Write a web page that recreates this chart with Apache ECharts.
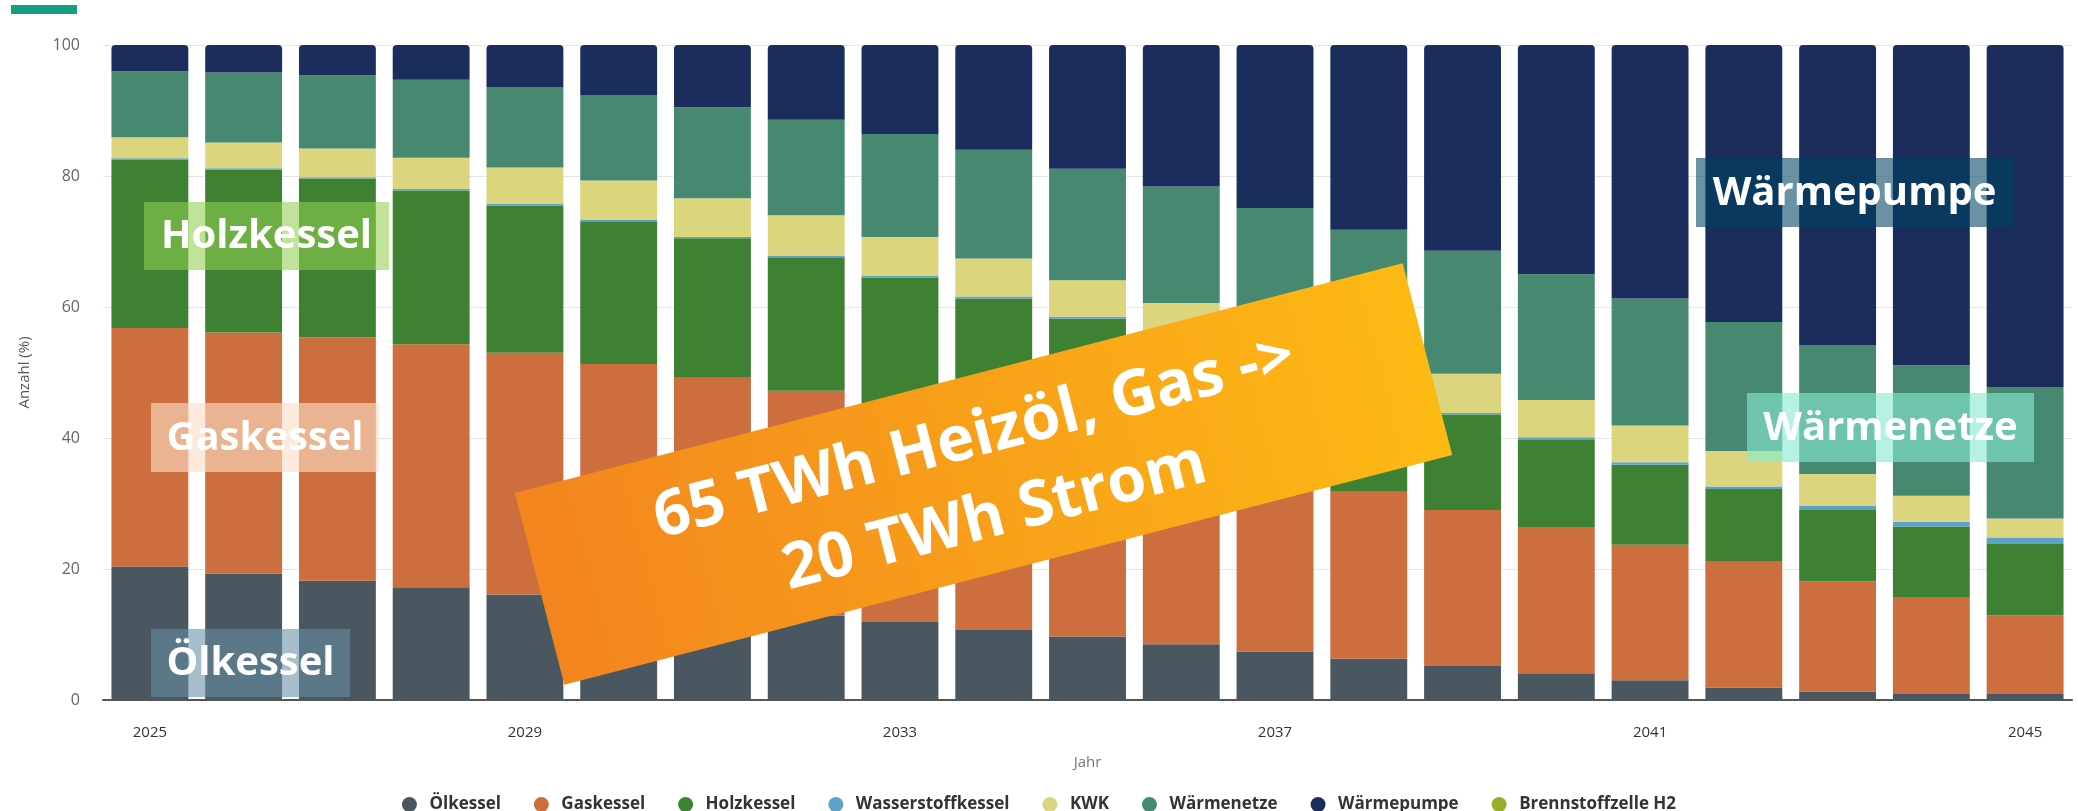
<!DOCTYPE html>
<html>
<head>
<meta charset="utf-8">
<title>Heizungen Anzahl (%)</title>
<script src="https://cdn.jsdelivr.net/npm/echarts@6/dist/echarts.min.js"></script>
<style>
  html, body { margin: 0; padding: 0; background: #fff; }
  #chart { width: 2078px; height: 811px; }
</style>
</head>
<body>
<div id="chart"></div>
<script>
let years = ["2025", "2026", "2027", "2028", "2029", "2030", "2031", "2032", "2033", "2034", "2035",
  "2036", "2037", "2038", "2039", "2040", "2041", "2042", "2043", "2044", "2045"];

let oelkessel = [20.4, 19.3, 18.2, 17.2, 16.1, 15.0, 14.0, 12.9, 11.9, 10.7, 9.7, 8.5, 7.4, 6.3, 5.2, 4.1, 3.0, 1.9, 1.3, 0.9, 0.9];
let gaskessel = [36.4, 36.8, 37.2, 37.1, 36.9, 36.3, 35.3, 34.3, 32.7, 31.3, 29.8, 28.4, 27.0, 25.5, 23.8, 22.3, 20.7, 19.2, 16.8, 14.7, 12.0];
let holzkessel = [25.7, 24.9, 24.2, 23.5, 22.5, 21.8, 21.2, 20.4, 19.9, 19.3, 18.7, 17.8, 16.6, 15.6, 14.6, 13.3, 12.2, 11.1, 10.9, 10.9, 10.9];
let wasserstoffkessel = [0.2, 0.2, 0.2, 0.2, 0.3, 0.2, 0.2, 0.2, 0.3, 0.3, 0.3, 0.3, 0.3, 0.3, 0.2, 0.4, 0.4, 0.4, 0.6, 0.7, 1.0];
let kwk = [3.2, 3.9, 4.4, 4.8, 5.5, 6.0, 5.9, 6.2, 5.9, 5.8, 5.6, 5.6, 5.6, 5.8, 6.0, 5.7, 5.6, 5.4, 4.9, 4.0, 2.9];
let waermenetze = [10.1, 10.7, 11.2, 11.9, 12.3, 13.0, 13.9, 14.6, 15.7, 16.6, 17.0, 17.8, 18.2, 18.3, 18.8, 19.2, 19.4, 19.7, 19.7, 19.9, 20.1];
let waermepumpe = [4.0, 4.2, 4.6, 5.3, 6.4, 7.7, 9.5, 11.4, 13.6, 16.0, 18.9, 21.6, 24.9, 28.2, 31.4, 35.0, 38.7, 42.3, 45.8, 48.9, 52.2];
let brennstoffzelle = [0, 0, 0, 0, 0, 0, 0, 0, 0, 0, 0, 0, 0, 0, 0, 0, 0, 0, 0, 0, 0];

let font = '"Open Sans", "Noto Sans", sans-serif';

let chart = echarts.init(document.getElementById("chart"));

function bar(name, data, color, radius) {
  return {
    name: name,
    type: "bar",
    stack: "total",
    barCategoryGap: "18%",
    itemStyle: { color: color, borderRadius: radius || 0 },
    emphasis: { disabled: true },
    data: data
  };
}

// halbtransparente Beschriftungskästen ueber den Balken
function labelBox(text, x, y, w, h, fill) {
  return {
    type: "group",
    x: x,
    y: y,
    children: [
      { type: "rect", z: 100, shape: { x: 0, y: 0, width: w, height: h }, style: { fill: fill } },
      {
        type: "text",
        z: 101,
        style: {
          text: text, x: w / 2, y: h / 2 + 1,
          align: "center", verticalAlign: "middle",
          fill: "#fff", font: "bold 40px " + font
        }
      }
    ]
  };
}

let option = {
  animation: false,
  grid: { left: 103, right: 6, top: 45, bottom: 111 },
  legend: {
    top: 791,
    left: "center",
    icon: "circle",
    itemWidth: 30,
    itemHeight: 15,
    itemGap: 33,
    textStyle: { fontFamily: font, fontSize: 17, fontWeight: "bold", color: "#333" },
    data: ["Ölkessel", "Gaskessel", "Holzkessel", "Wasserstoffkessel", "KWK", "Wärmenetze", "Wärmepumpe", "Brennstoffzelle H2"]
  },
  xAxis: {
    type: "category",
    data: years,
    name: "Jahr",
    nameLocation: "middle",
    nameGap: 55,
    nameTextStyle: { fontFamily: font, fontSize: 15, color: "#777" },
    axisLine: { lineStyle: { color: "#555", width: 2 } },
    axisTick: { show: false },
    axisLabel: { interval: 3, margin: 25, fontFamily: font, fontSize: 15, color: "#333" }
  },
  yAxis: {
    type: "value",
    min: 0,
    max: 100,
    interval: 20,
    name: "Anzahl (%)",
    nameLocation: "middle",
    nameGap: 71,
    nameTextStyle: { fontFamily: font, fontSize: 15, color: "#555" },
    axisLine: { show: false },
    axisTick: { show: false },
    axisLabel: { margin: 23, fontFamily: font, fontSize: 16, color: "#666" },
    splitLine: { lineStyle: { color: "#e6e6e6", width: 1 } }
  },
  series: [
    bar("Ölkessel", oelkessel, "#4a5761"),
    bar("Gaskessel", gaskessel, "#cc6e3e"),
    bar("Holzkessel", holzkessel, "#3f8133"),
    bar("Wasserstoffkessel", wasserstoffkessel, "#5ba3c7"),
    bar("KWK", kwk, "#dbd57e"),
    bar("Wärmenetze", waermenetze, "#468870"),
    bar("Wärmepumpe", waermepumpe, "#1a2d5c", [4, 4, 0, 0]),
    bar("Brennstoffzelle H2", brennstoffzelle, "#9aad2a")
  ],
  graphic: [
    { type: "rect", shape: { x: 11, y: 5, width: 66, height: 9 }, style: { fill: "#17a07f" } },
    labelBox("Holzkessel", 144, 202, 245, 68, "rgba(145,208,79,0.58)"),
    labelBox("Gaskessel", 151, 403, 228, 69, "rgba(252,221,198,0.62)"),
    labelBox("Ölkessel", 151, 629, 199, 68, "rgba(103,145,167,0.58)"),
    labelBox("Wärmepumpe", 1696, 158, 317, 69, "rgba(0,67,98,0.58)"),
    labelBox("Wärmenetze", 1747, 393, 287, 69, "rgba(135,234,208,0.62)"),
    {
      type: "group",
      x: 983.5,
      y: 474,
      rotation: 14.5 * Math.PI / 180,
      children: [
        {
          type: "rect",
          z: 110,
          shape: { x: -458.5, y: -99, width: 917, height: 198 },
          style: {
            fill: new echarts.graphic.LinearGradient(0, 0, 1, 0, [
              { offset: 0, color: "#f3851f" },
              { offset: 1, color: "#fdba14" }
            ])
          }
        },
        {
          type: "text",
          z: 111,
          style: {
            text: "65 TWh Heizöl, Gas ->\n20 TWh Strom",
            x: 0, y: 4,
            align: "center", verticalAlign: "middle",
            fill: "#fff", font: "bold 63px " + font, lineHeight: 82
          }
        }
      ]
    }
  ]
};

chart.setOption(option);
</script>
</body>
</html>
